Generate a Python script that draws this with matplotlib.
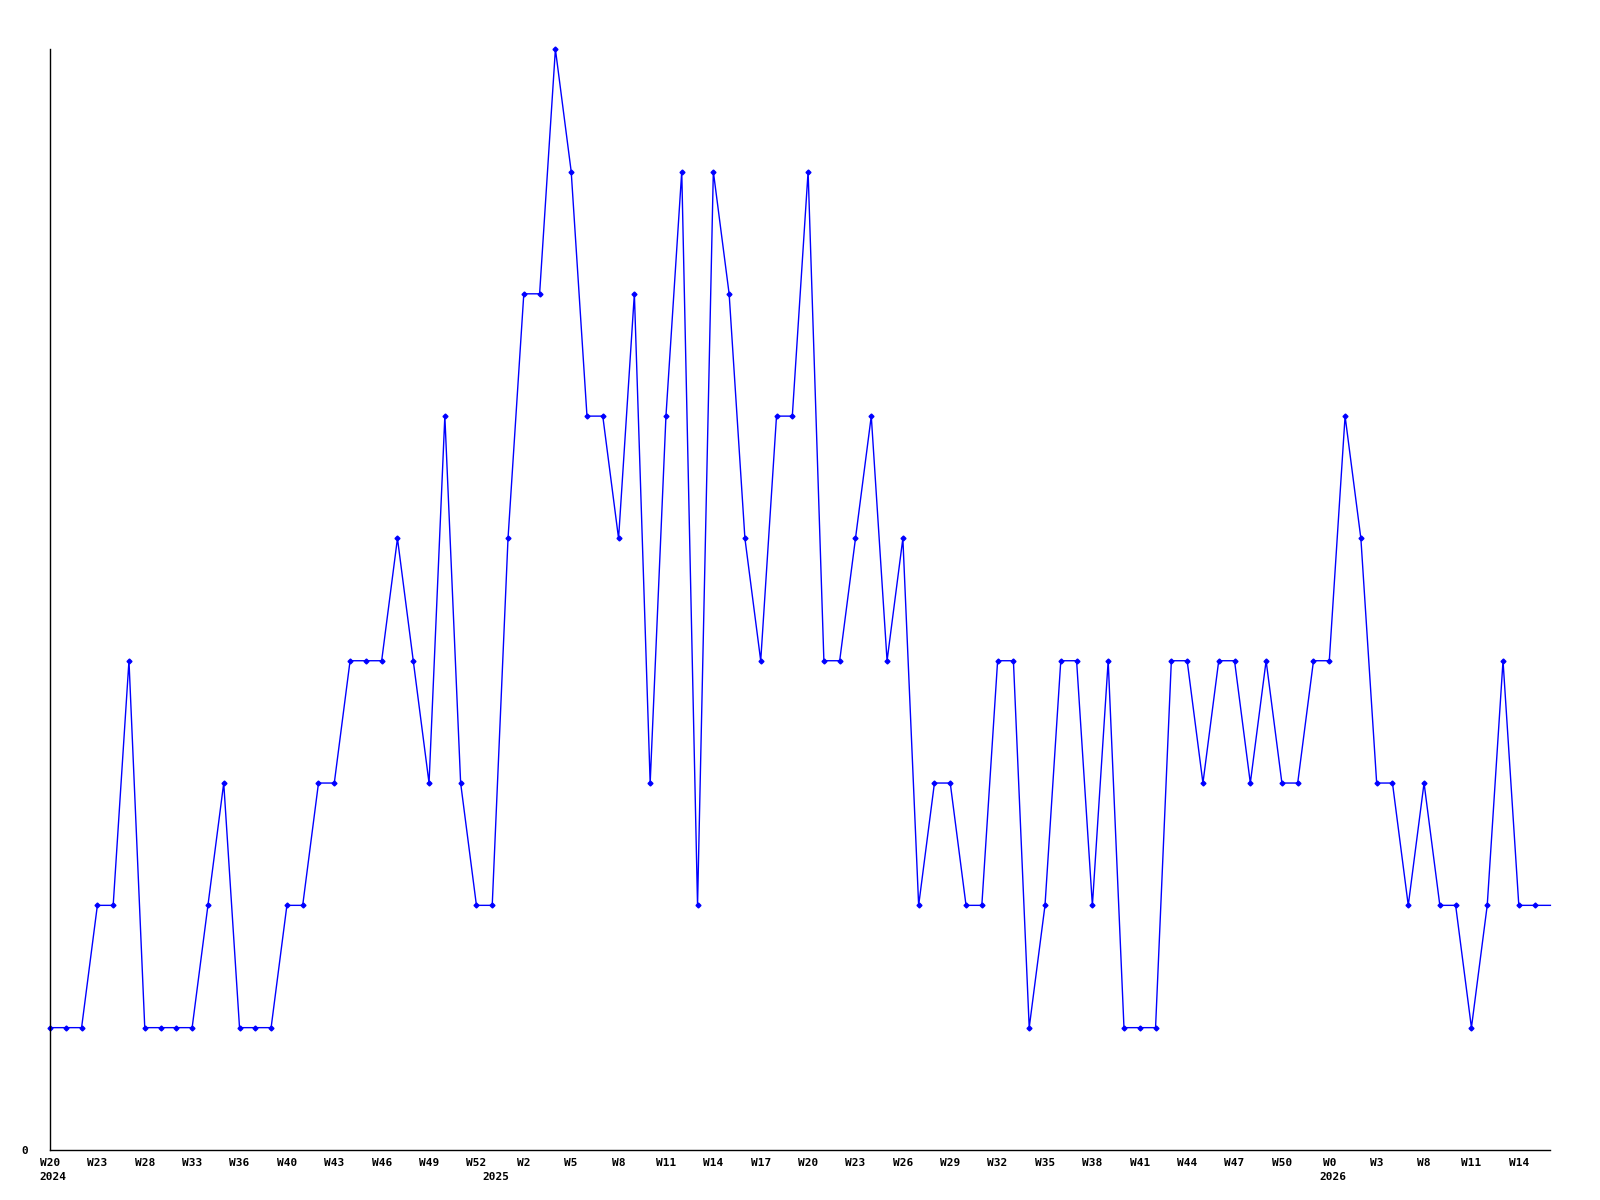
import matplotlib
matplotlib.use('Agg')
import matplotlib.pyplot as plt
import matplotlib.transforms as mtransforms

# weekly counts (last point has no marker, it just runs to the edge)
values = [1, 1, 1, 2, 2, 4, 1, 1, 1, 1, 2, 3, 1, 1, 1, 2, 2, 3, 3, 4,
          4, 4, 5, 4, 3, 6, 3, 2, 2, 5, 7, 7, 9, 8, 6, 6, 5, 7, 3, 6,
          8, 2, 8, 7, 5, 4, 6, 6, 8, 4, 4, 5, 6, 4, 5, 2, 3, 3, 2, 2,
          4, 4, 1, 2, 4, 4, 2, 4, 1, 1, 1, 4, 4, 3, 4, 4, 3, 4, 3, 3,
          4, 4, 6, 5, 3, 3, 2, 3, 2, 2, 1, 2, 4, 2, 2, 2]

tick_labels = ['W20', 'W23', 'W28', 'W33', 'W36', 'W40', 'W43', 'W46',
               'W49', 'W52', 'W2', 'W5', 'W8', 'W11', 'W14', 'W17',
               'W20', 'W23', 'W26', 'W29', 'W32', 'W35', 'W38', 'W41',
               'W44', 'W47', 'W50', 'W0', 'W3', 'W8', 'W11', 'W14']
tick_step = 3

years = ['2024', '2025', '2026']
year_pos = [0.2, 28.2, 81.2]

FONT = dict(family='DejaVu Sans Mono', fontweight='bold', fontsize=8)

fig = plt.figure(figsize=(16, 12), dpi=100)
ax = fig.add_axes([0.03125, 0.0417, 0.969 - 0.03125, 0.959 - 0.0417])

x = list(range(len(values)))
ax.plot(x, values, color='#0000ff', lw=1.0, marker='D', markersize=2.5,
        markevery=list(range(len(values) - 1)), clip_on=False)

ax.set_xlim(0, len(values) - 1)
ax.set_ylim(0, 9)

ax.set_xticks(range(0, tick_step * len(tick_labels), tick_step))
ax.set_xticklabels(tick_labels, **FONT)
ax.set_yticks([0])
ax.set_yticklabels(['0'], **FONT)
ax.tick_params(length=0)
ax.tick_params(axis='x', pad=6)
ax.tick_params(axis='y', pad=16)

trans = mtransforms.blended_transform_factory(ax.transData, fig.transFigure)
for yr, xp in zip(years, year_pos):
    ax.text(xp, 1 - 1177 / 1200, yr, transform=trans, ha='center',
            va='center', clip_on=False, **FONT)

for s in ('top', 'right'):
    ax.spines[s].set_visible(False)
for s in ('left', 'bottom'):
    ax.spines[s].set_color('black')
    ax.spines[s].set_linewidth(1.0)

fig.savefig('out.png', dpi=100, facecolor='white')
